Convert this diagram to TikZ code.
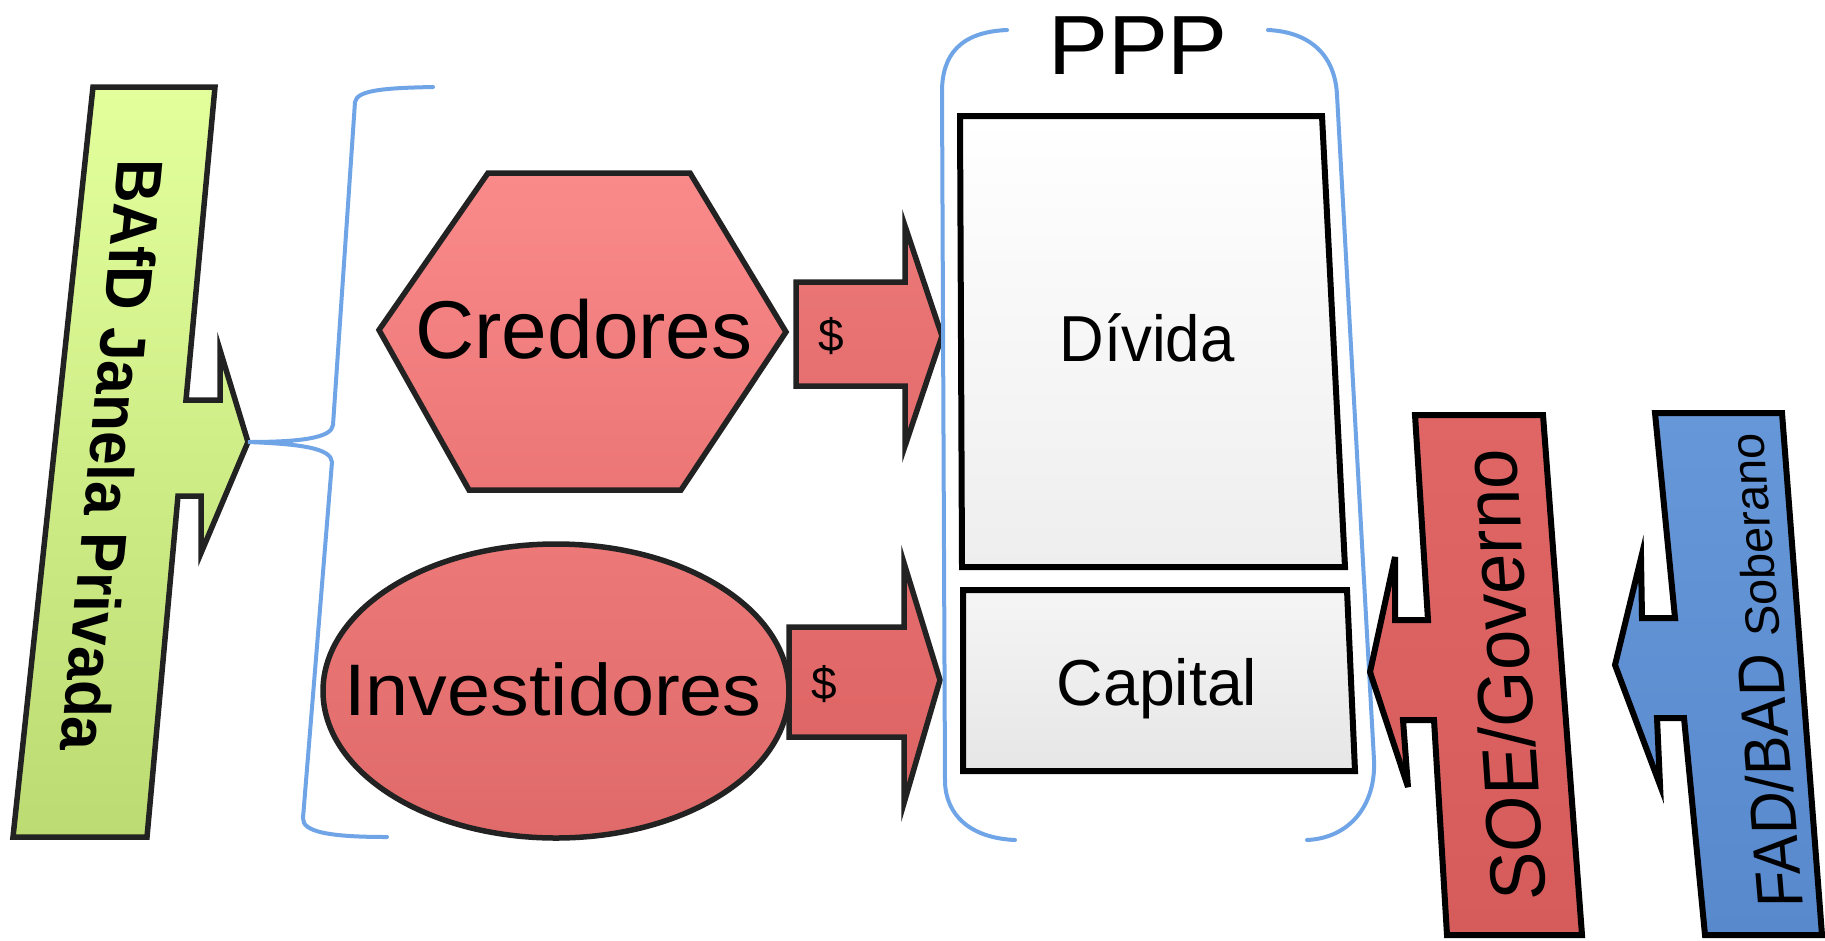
\documentclass[tikz,border=0pt]{standalone}
\usepackage{fontspec}
\setmainfont{Liberation Sans}
\usetikzlibrary{shapes.geometric}
\definecolor{brkblue}{HTML}{6FA5E6}
\definecolor{edge}{HTML}{222222}
\newcommand{\fs}[1]{\fontsize{#1}{#1}\selectfont}
\begin{document}
\begin{tikzpicture}[x=1pt,y=-1pt,
  outline/.style={line width=5.5pt, draw=edge, line join=miter, miter limit=8},
  boxline/.style={line width=6pt, draw=black, line join=miter, miter limit=8},
  brk/.style={draw=brkblue, line width=4pt, line cap=round},
  lbl/.style={inner sep=0pt, outer sep=0pt, text=black}]
\useasboundingbox[fill=white] (0,0) rectangle (1825,940);

% ---- green callout BAfD
\path[outline, top color={rgb,255:red,226;green,255;blue,156}, bottom color={rgb,255:red,188;green,219;blue,114}]
  (93,87) -- (215,87) -- (186,400) -- (220,400) -- (220,350) -- (248,442)
  -- (201,553) -- (201,496) -- (178,496) -- (147,837) -- (13,837) -- cycle;
\coordinate (gtip) at (248,442);
\node[lbl, cm={-0.0987,-1,1,0,(0,0)}] (bafd) at (113,455)
  {\fs{65}\bfseries\scalebox{0.93}[1]{BAfD Janela Privada}};

% ---- left brace
\draw[brk] (433,87) .. controls (385,88) and (357,90) .. (355,102)
  -- (333,425) .. controls (332,438) and (300,442) .. (gtip)
  .. controls (300,444) and (331,448) .. (332,462)
  -- (303,818) .. controls (302,832) and (330,837) .. (387,837);

% ---- Credores hexagon
\path[outline, top color={rgb,255:red,250;green,138;blue,138}, bottom color={rgb,255:red,236;green,118;blue,118}]
  (379,330) -- (488,173) -- (690,173) -- (786,332) -- (681,490) -- (469,490) -- cycle;
\node[lbl, anchor=base] (cred) at (584,358) {\fs{82}Credores};

% ---- Investidores ellipse
\node[ellipse, outline, minimum width=466pt, minimum height=294pt, inner sep=0pt,
  top color={rgb,255:red,236;green,120;blue,120}, bottom color={rgb,255:red,224;green,106;blue,106}]
  (invE) at (556,691) {};
\node[lbl, anchor=base] (inv) at (553,715) {\fs{73}\scalebox{1.06}[1]{Investidores}};

% ---- $ arrows
\path[outline, top color={rgb,255:red,236;green,120;blue,120}, bottom color={rgb,255:red,228;green,108;blue,108}]
  (796,282) -- (905,282) -- (905,226) -- (942,336) -- (905,446) -- (905,386) -- (796,386) -- cycle;
\node[lbl] (d1) at (831,336) {\fs{46}\$};
\path[outline, top color={rgb,255:red,228;green,108;blue,108}, bottom color={rgb,255:red,222;green,100;blue,100}]
  (789,627) -- (904,627) -- (904,563) -- (940,680) -- (904,803) -- (904,737) -- (789,737) -- cycle;
\node[lbl] (d2) at (824,684) {\fs{46}\$};

% ---- PPP bracket
\draw[brk] (1007,30) .. controls (960,32) and (942,55) .. (942,92)
  -- (945,782) .. controls (946,815) and (970,838) .. (1015,840);
\draw[brk] (1268,30) .. controls (1310,32) and (1335,55) .. (1337,95)
  -- (1374,760) .. controls (1376,805) and (1350,838) .. (1307,840);
\node[lbl, anchor=base] (ppp) at (1138,74) {\fs{84}\scalebox{1.07}[1]{PPP}};

% ---- Divida / Capital boxes
\path[boxline, top color=white, bottom color={rgb,255:red,238;green,238;blue,238}]
  (960,116) -- (1322,116) -- (1345,567) -- (962,567) -- cycle;
\node[lbl, anchor=base] (div) at (1147,361) {\fs{65}\scalebox{0.95}[1]{Dívida}};
\path[boxline, top color={rgb,255:red,245;green,245;blue,245}, bottom color={rgb,255:red,230;green,230;blue,230}]
  (963,590) -- (1347,590) -- (1355,771) -- (963,771) -- cycle;
\node[lbl, anchor=base] (cap) at (1157,705) {\fs{65}\scalebox{0.99}[1]{Capital}};

% ---- SOE/Governo arrow
\path[boxline, top color={rgb,255:red,224;green,102;blue,102}, bottom color={rgb,255:red,214;green,92;blue,92}]
  (1415,415) -- (1543,415) -- (1582,935) -- (1447,935) -- (1434,720) -- (1403,720)
  -- (1408,787) -- (1370,672) -- (1395,557) -- (1395,620) -- (1428,620) -- cycle;
\node[lbl, cm={-0.068,1,-1,0,(0,0)}] (soe) at (1503,675) {\fs{78}\scalebox{0.93}[1]{SOE/Governo}};

% ---- FAD/BAD arrow
\path[boxline, top color={rgb,255:red,102;green,151;blue,216}, bottom color={rgb,255:red,88;green,137;blue,205}]
  (1655,413) -- (1782,413) -- (1822,935) -- (1705,935) -- (1684,718) -- (1657,718)
  -- (1660,785) -- (1615,665) -- (1641,558) -- (1642,618) -- (1675,618) -- cycle;
\node[lbl, anchor=base, cm={-0.085,1,-1,0,(0,0)}] (fad) at (1783,670)
  {\scalebox{0.91}[1]{\fs{65}FAD/BAD}\hspace{17pt}\scalebox{0.98}[1]{\fs{48}Soberano}};
\end{tikzpicture}
\end{document}
